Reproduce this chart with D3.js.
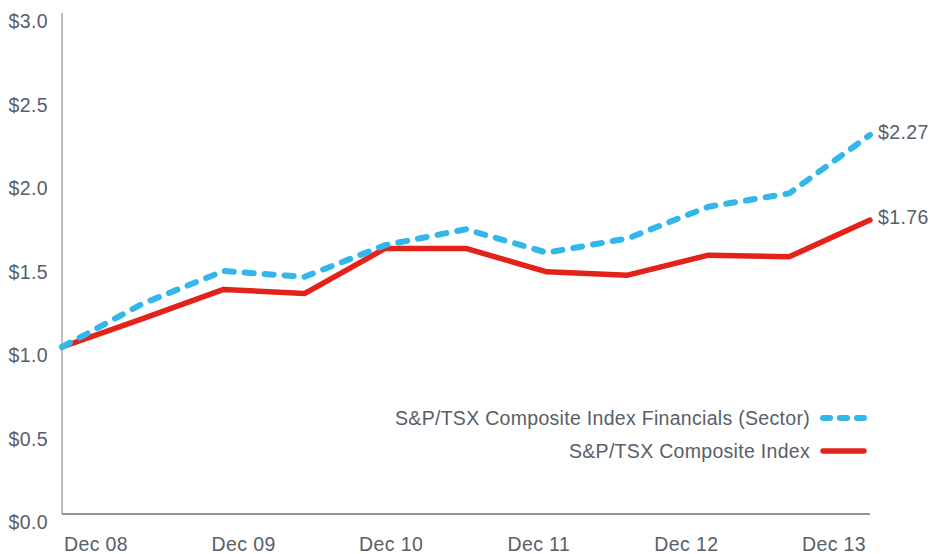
<!DOCTYPE html>
<html>
<head>
<meta charset="utf-8">
<script src="https://cdn.jsdelivr.net/npm/d3@7"></script>
<style>
  html, body { margin: 0; padding: 0; background: #fff; }
  svg { display: block; font-family: "Liberation Sans", Arial, Helvetica, sans-serif; }
</style>
</head>
<body>
<svg id="chart" width="950" height="554"></svg>
<script>
// Semi-annual periods, Dec 2008 to Dec 2013
const periods = ["Dec 08", "Jun 09", "Dec 09", "Jun 10", "Dec 10", "Jun 11",
                 "Dec 11", "Jun 12", "Dec 12", "Jun 13", "Dec 13"];
// Growth of $1 invested
const financials = [1.00, 1.26, 1.455, 1.42, 1.61, 1.705, 1.565, 1.65, 1.84, 1.92, 2.27];
const composite  = [1.00, 1.17, 1.345, 1.32, 1.59, 1.59, 1.45, 1.43, 1.55, 1.54, 1.76];
const xTickLabels = ["Dec 08", "Dec 09", "Dec 10", "Dec 11", "Dec 12", "Dec 13"];
const yTicks = [0, 0.5, 1.0, 1.5, 2.0, 2.5, 3.0];
const seriesNames = ["S&P/TSX Composite Index Financials (Sector)", "S&P/TSX Composite Index"];

const plotLeft = 62, plotRight = 870, plotTop = 13, plotBottom = 514;
const textColor = "#56606a";
const blue = "#33b6ea", red = "#e3231a";

const svg = d3.select("#chart");

const x = d3.scalePoint().domain(periods).range([plotLeft, plotRight]);
const y = d3.scaleLinear().domain([0, 3]).range([plotBottom, plotTop]);
const xLab = d3.scalePoint().domain(xTickLabels).range([95.5, 833.5]);

// y axis
const yAxis = svg.append("g")
  .attr("transform", `translate(${plotLeft},0)`)
  .call(d3.axisLeft(y).tickValues(yTicks).tickSize(0).tickPadding(14)
        .tickFormat(d => "$" + d.toFixed(1)));
yAxis.select(".domain").remove();
yAxis.selectAll("text")
  .attr("dy", "0.75em")
  .attr("fill", textColor)
  .style("font-size", "19.5px")
  .style("letter-spacing", "0.4px");

svg.append("line")
  .attr("x1", plotLeft).attr("x2", plotLeft).attr("y1", plotTop).attr("y2", plotBottom)
  .attr("stroke", "#a6aaae").attr("stroke-width", 1.5);

// x axis
svg.append("line")
  .attr("x1", plotLeft).attr("x2", plotRight).attr("y1", plotBottom).attr("y2", plotBottom)
  .attr("stroke", "#66707a").attr("stroke-width", 1.5);

const xAxis = svg.append("g")
  .attr("transform", `translate(0,${plotBottom})`)
  .call(d3.axisBottom(xLab).tickSize(0).tickPadding(0));
xAxis.select(".domain").remove();
xAxis.selectAll("text")
  .attr("y", 37)
  .attr("dy", 0)
  .attr("fill", textColor)
  .style("font-size", "19.5px")
  .style("letter-spacing", "0.4px");

// lines
const line = d3.line().x((d, i) => x(periods[i])).y(d => y(d));

svg.append("path")
  .datum(composite)
  .attr("d", line)
  .attr("fill", "none")
  .attr("stroke", red)
  .attr("stroke-width", 5.5)
  .attr("stroke-linejoin", "round")
  .attr("stroke-linecap", "round");

svg.append("path")
  .datum(financials)
  .attr("d", line)
  .attr("fill", "none")
  .attr("stroke", blue)
  .attr("stroke-width", 6)
  .attr("stroke-dasharray", "9,11")
  .attr("stroke-linejoin", "round")
  .attr("stroke-linecap", "round");

// end value labels
const endLabels = [
  { v: financials[financials.length - 1] },
  { v: composite[composite.length - 1] }
];
svg.selectAll("text.endlabel")
  .data(endLabels)
  .join("text")
  .attr("class", "endlabel")
  .attr("x", plotRight + 8)
  .attr("y", d => y(d.v) - 3)
  .attr("dy", "0.35em")
  .attr("fill", textColor)
  .style("font-size", "19.5px")
  .style("letter-spacing", "0.4px")
  .text(d => "$" + d.v.toFixed(2));

// legend
const legend = svg.append("g");
const legendRows = [
  { name: seriesNames[0], color: blue, dash: "7,10", w: 6, cy: 418 },
  { name: seriesNames[1], color: red, dash: null, w: 5.5, cy: 451 }
];
legendRows.forEach(r => {
  legend.append("text")
    .attr("x", 810).attr("y", r.cy)
    .attr("dy", "0.35em")
    .attr("text-anchor", "end")
    .attr("fill", textColor)
    .style("font-size", "19.5px")
    .style("letter-spacing", "0.3px")
    .text(r.name);
  legend.append("line")
    .attr("x1", 823).attr("x2", 864)
    .attr("y1", r.cy).attr("y2", r.cy)
    .attr("stroke", r.color)
    .attr("stroke-width", r.w)
    .attr("stroke-linecap", "round")
    .attr("stroke-dasharray", r.dash);
});
</script>
</body>
</html>
